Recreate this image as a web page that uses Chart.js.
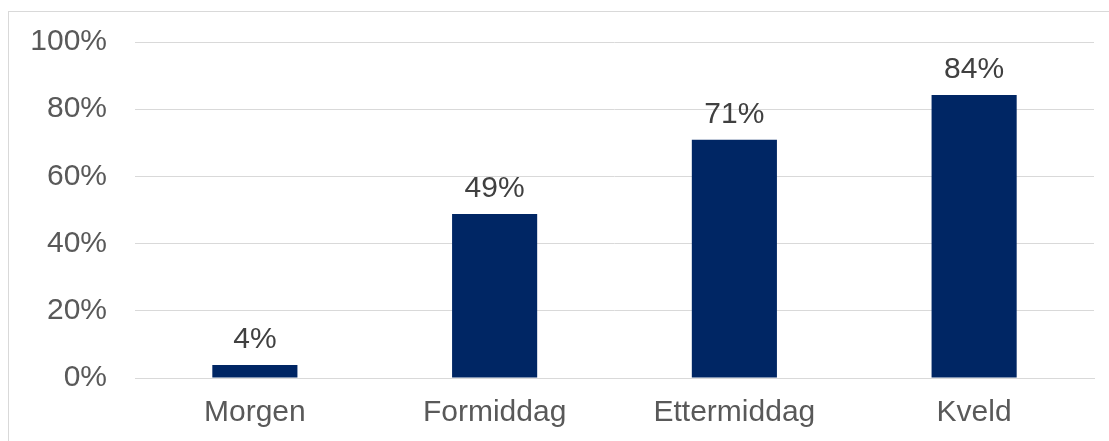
<!DOCTYPE html>
<html>
<head>
<meta charset="utf-8">
<script src="https://cdn.jsdelivr.net/npm/chart.js@4/dist/chart.umd.min.js"></script>
<style>
  html, body { margin: 0; padding: 0; background: #fff; overflow: hidden; }
  #frame { position: absolute; left: 8px; top: 11px; width: 1200px; height: 500px; border: 1px solid #d9d9d9; }
  #wrap { position: absolute; left: 0; top: 0; width: 1109px; height: 441px; }
</style>
</head>
<body>
<div id="frame"></div>
<div id="wrap"><canvas id="c" width="1109" height="441"></canvas></div>
<script>
const categories = ["Morgen", "Formiddag", "Ettermiddag", "Kveld"];
const values = [3.9, 48.8, 70.9, 84.2];
const valueLabels = ["4%", "49%", "71%", "84%"];
const yTicks = [0, 20, 40, 60, 80, 100];

const FONT = "'Liberation Sans', Arial, sans-serif";

const dataLabelPlugin = {
  id: 'dataLabels',
  afterDatasetsDraw(chart) {
    const ctx = chart.ctx;
    const meta = chart.getDatasetMeta(0);
    ctx.save();
    ctx.font = "30px " + FONT;
    ctx.fillStyle = "#404040";
    ctx.textAlign = "center";
    ctx.textBaseline = "alphabetic";
    meta.data.forEach((bar, i) => {
      ctx.fillText(valueLabels[i], bar.x, bar.y - 17);
    });
    ctx.restore();
  }
};

new Chart(document.getElementById('c'), {
  type: 'bar',
  data: {
    labels: categories,
    datasets: [{
      data: values,
      backgroundColor: '#002664',
      borderWidth: 0,
      categoryPercentage: 1.0,
      barPercentage: 0.355
    }]
  },
  options: {
    responsive: false,
    animation: false,
    devicePixelRatio: 1,
    layout: { padding: { top: 42, right: 15, left: 0, bottom: 0 } },
    plugins: { legend: { display: false }, tooltip: { enabled: false } },
    scales: {
      x: {
        grid: { display: false, drawTicks: false },
        border: { display: true, color: '#d9d9d9', width: 1 },
        ticks: { color: '#595959', font: { family: FONT, size: 30, lineHeight: 1.2 }, padding: 17, maxRotation: 0 },
        afterFit(s) { s.height = 63; }
      },
      y: {
        min: 0, max: 100,
        afterBuildTicks(s) { s.ticks = yTicks.map(v => ({ value: v })); },
        grid: { color: '#d9d9d9', lineWidth: 1, drawTicks: true, tickLength: 28, tickColor: 'rgba(0,0,0,0)' },
        border: { display: false },
        ticks: { color: '#595959', font: { family: FONT, size: 30 }, padding: 0, callback: v => v + '%' },
        afterFit(s) { s.width = 135; }
      }
    }
  },
  plugins: [dataLabelPlugin]
});
</script>
</body>
</html>
